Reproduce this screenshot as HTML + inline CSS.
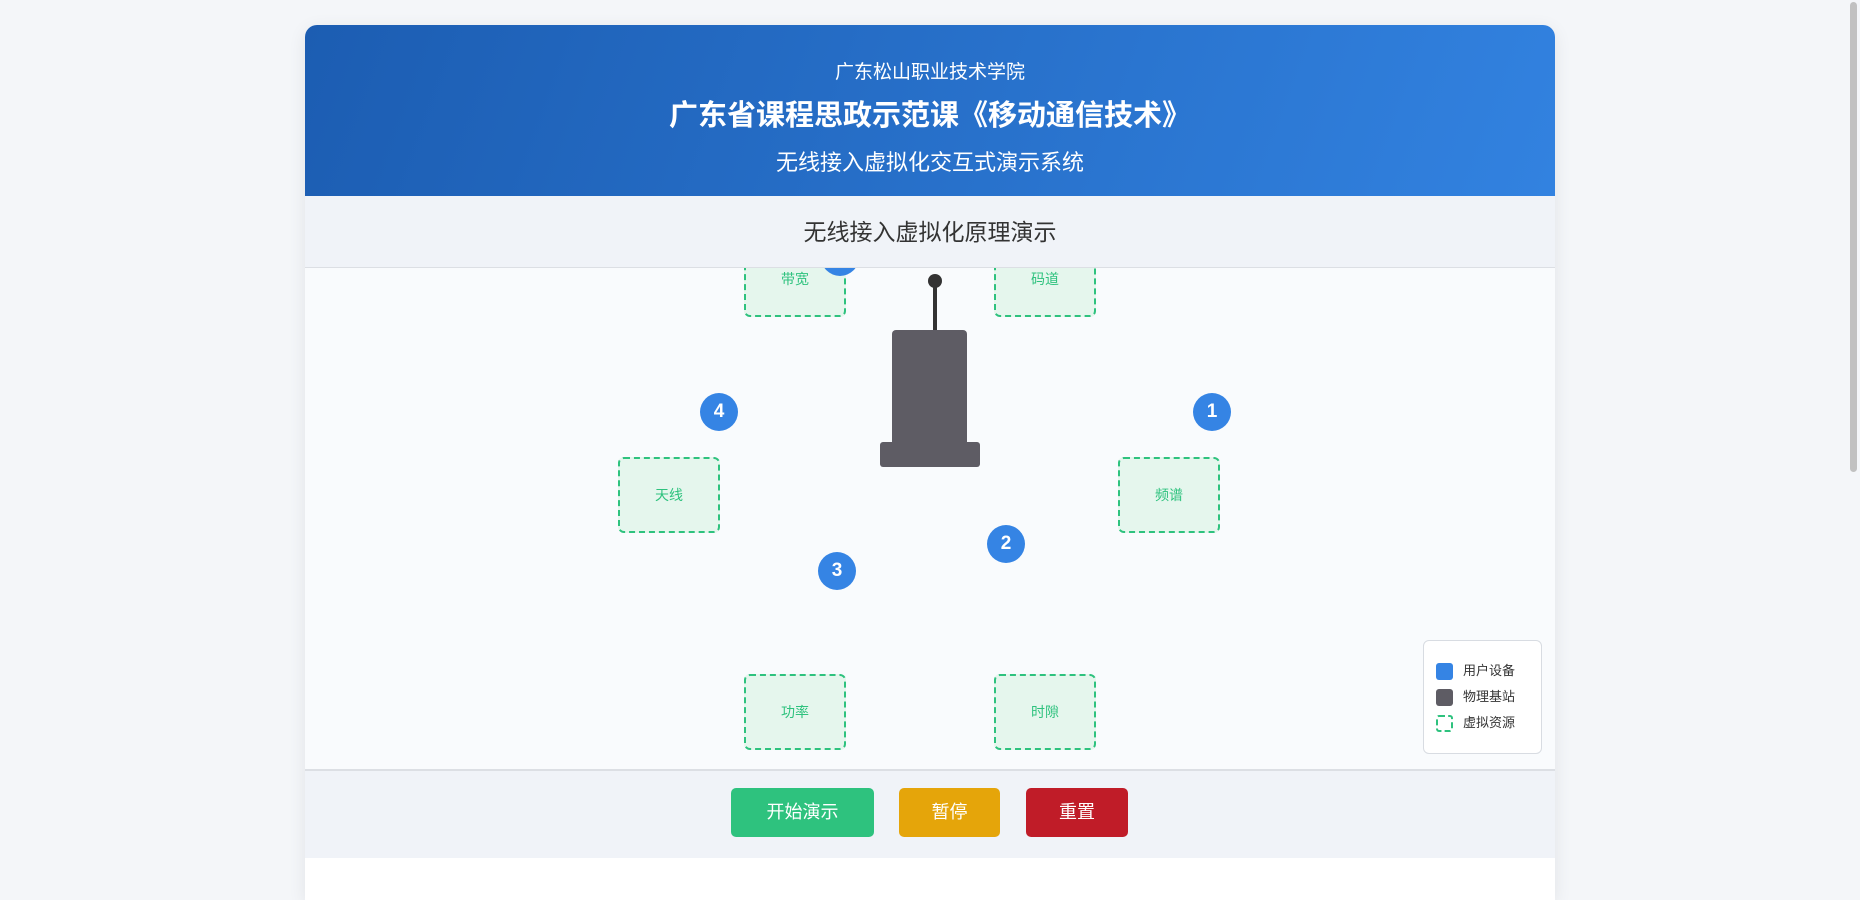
<!DOCTYPE html>
<html><head><meta charset="utf-8"><style>
*{margin:0;padding:0;box-sizing:border-box}
html,body{width:1860px;height:900px;overflow:hidden}
body{background:#f4f6f9;font-family:"Liberation Sans","Noto Sans CJK SC",sans-serif;position:relative}
.card{position:absolute;left:305px;top:25px;width:1250px;height:875px;background:#fff;border-radius:12px 12px 0 0;overflow:hidden;box-shadow:0 4px 18px rgba(0,0,0,.08)}
.hdr{position:absolute;left:0;top:0;width:1250px;height:171px;background:linear-gradient(110deg,#1c5db2,#3282e0);color:#fff;text-align:center}
.band{position:absolute;left:0;top:171px;width:1250px;height:72px;background:#f0f3f8;border-bottom:1px solid #dcdfe4;text-align:center;font-size:23px;color:#333;line-height:72px}
.canvas{position:absolute;left:0;top:243px;width:1250px;height:501px;background:#f9fbfd;overflow:hidden}
.ctl{position:absolute;left:0;top:744px;width:1250px;height:89px;background:#f0f3f8;border-top:2px solid #dcdfe4}
.box{position:absolute;width:102px;height:76px;background:#e5f6ed;border:2px dashed #2ec27e;border-radius:6px;color:#2ec27e;font-size:14px;text-align:center;line-height:72px}
.c{position:absolute;width:38px;height:38px;border-radius:50%;background:#3584e4;color:#fff;font-weight:bold;font-size:19px;text-align:center;line-height:38px}
.btn{position:absolute;top:17px;height:49px;border-radius:5px;color:#fff;font-size:18px;text-align:center;line-height:49px}
.lg{position:absolute;left:1118px;top:372px;width:119px;height:114px;background:#fff;border:1px solid #d8dce2;border-radius:6px}
.li{position:absolute;left:12px;font-size:13px;color:#333;line-height:18px}
.sw{display:inline-block;width:17px;height:17px;border-radius:3px;vertical-align:middle;margin-right:10px}
</style></head><body>
<div class="card">
 <div class="hdr">
  <div style="position:absolute;top:32px;width:100%;font-size:19px">广东松山职业技术学院</div>
  <div style="position:absolute;top:67px;width:100%;font-size:29px;font-weight:bold">广东省课程思政示范课《移动通信技术》</div>
  <div style="position:absolute;top:120px;width:100%;font-size:22px">无线接入虚拟化交互式演示系统</div>
 </div>
 <div class="canvas">
  <div class="box" style="left:439px;top:-27px">带宽</div>
  <div class="box" style="left:689px;top:-27px">码道</div>
  <div class="box" style="left:313px;top:189px">天线</div>
  <div class="box" style="left:813px;top:189px">频谱</div>
  <div class="box" style="left:439px;top:406px">功率</div>
  <div class="box" style="left:689px;top:406px">时隙</div>
  <div class="c" style="left:516px;top:-30px"></div>
  <div style="position:absolute;left:623px;top:6px;width:14px;height:14px;border-radius:50%;background:#333"></div>
  <div style="position:absolute;left:628px;top:13px;width:4px;height:50px;background:#333"></div>
  <div style="position:absolute;left:587px;top:62px;width:75px;height:116px;background:#5e5c64;border-radius:4px"></div>
  <div style="position:absolute;left:575px;top:174px;width:100px;height:25px;background:#5e5c64;border-radius:3px"></div>
  <div class="c" style="left:395px;top:125px">4</div>
  <div class="c" style="left:888px;top:125px">1</div>
  <div class="c" style="left:682px;top:257px">2</div>
  <div class="c" style="left:513px;top:284px">3</div>
  <div class="lg">
   <div class="li" style="top:21px"><span class="sw" style="background:#3584e4"></span>用户设备</div>
   <div class="li" style="top:47px"><span class="sw" style="background:#5e5c64"></span>物理基站</div>
   <div class="li" style="top:73px"><span class="sw" style="border:2px dashed #2ec27e"></span>虚拟资源</div>
  </div>
 </div>
 <div class="band">无线接入虚拟化原理演示</div>
 <div class="ctl">
  <div class="btn" style="left:426px;width:143px;background:#2ec27e">开始演示</div>
  <div class="btn" style="left:594px;width:101px;background:#e5a50a">暂停</div>
  <div class="btn" style="left:721px;width:102px;background:#c01c28">重置</div>
 </div>
</div>
<div style="position:absolute;left:1850px;top:2px;width:7px;height:470px;background:#c1c1c1;border-radius:4px"></div>
</body></html>
